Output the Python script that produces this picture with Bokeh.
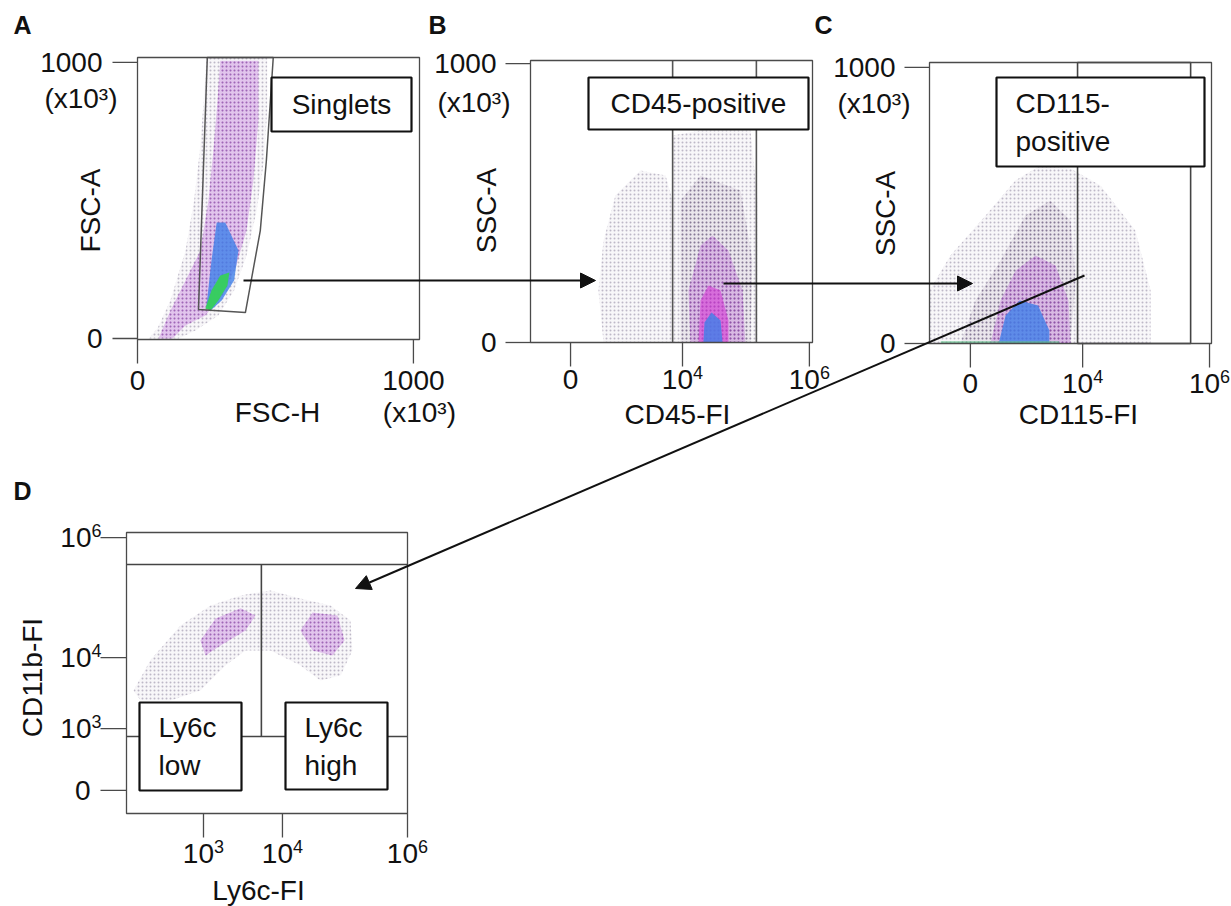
import math
from bokeh.plotting import figure
from bokeh.models import Range1d, Arrow, NormalHead
from bokeh.core.properties import value
from bokeh.embed import file_html
from bokeh.resources import INLINE

# ---------------------------------------------------------------- data
# Panel A : FSC-H (x10^3) vs FSC-A (x10^3)
A_xticks = [0, 1000]
A_xtick_labels = ["0", "1000"]
A_yticks = [0, 1000]
A_ytick_labels = ["0", "1000"]
A_gate_x = [253, 492, 467, 445, 391, 221]
A_gate_y = [1018, 1018, 644, 391, 94, 105]
A_sparse_x = [40, 72, 119, 174, 205, 226, 240, 250, 470, 470, 458, 432, 395, 350, 293, 210, 150]
A_sparse_y = [0, 36, 138, 319, 500, 681, 862, 1017, 1017, 825, 644, 463, 300, 174, 83, 29, 0]
A_dense_x = [76, 119, 174, 228, 257, 275, 290, 300, 438, 438, 420, 395, 358, 308, 246, 174, 127]
A_dense_y = [0, 101, 210, 319, 500, 681, 862, 1006, 1006, 789, 572, 391, 264, 156, 83, 47, 0]
A_blue_x = [250, 268, 287, 318, 366, 350, 305, 264]
A_blue_y = [119, 282, 420, 420, 319, 210, 138, 101]
A_green_x = [246, 268, 300, 333, 326, 293, 264]
A_green_y = [109, 174, 228, 239, 192, 138, 101]

# Panel B : CD45-FI (display channel) vs SSC-A (x10^3)
B_xticks = [142, 539, 989]
B_xtick_labels = ["0", "10\u2074", "10\u2076"]
B_yticks = [0, 1000]
B_ytick_labels = ["0", "1000"]
B_gate_x = [504, 801]
B_left_x = [259, 241, 259, 301, 390, 479, 504, 504]
B_left_y = [0, 186, 366, 527, 617, 599, 509, 0]
B_right_x = [504, 504, 603, 780, 805, 805]
B_right_y = [0, 742, 760, 760, 509, 0]
B_mid_x = [532, 532, 603, 745, 787, 780]
B_mid_y = [0, 509, 599, 545, 294, 0]
B_mag_x = [567, 560, 603, 645, 702, 752, 762]
B_mag_y = [0, 186, 348, 384, 330, 186, 0]
B_core_x = [596, 603, 631, 674, 702, 702]
B_core_y = [0, 151, 204, 186, 79, 0]
B_blue_x = [613, 617, 642, 674, 681]
B_blue_y = [0, 72, 108, 79, 0]

# Panel C : CD115-FI (display channel) vs SSC-A (x10^3)
C_xticks = [145, 543, 993]
C_xtick_labels = ["0", "10\u2074", "10\u2076"]
C_yticks = [0, 1000]
C_ytick_labels = ["0", "1000"]
C_gate_x = [525, 926]
C_sparse_x = [0, 0, 74, 199, 305, 394, 500, 606, 730, 784, 784]
C_sparse_y = [0, 192, 319, 464, 591, 645, 634, 572, 409, 192, 0]
C_mid_x = [110, 163, 252, 340, 429, 500, 518, 500]
C_mid_y = [0, 156, 301, 464, 518, 446, 228, 0]
C_mag_x = [216, 252, 305, 376, 447, 493, 500]
C_mag_y = [0, 156, 264, 319, 283, 156, 0]
C_blue_x = [245, 270, 320, 385, 425, 425]
C_blue_y = [0, 101, 156, 138, 47, 0]
C_green_x = [40, 460]

# Panel D : Ly6c-FI vs CD11b-FI (display channels)
D_xticks = [274, 555, 1000]
D_xtick_labels = ["10\u00b3", "10\u2074", "10\u2076"]
D_yticks = [82, 302, 555, 982]
D_ytick_labels = ["0", "10\u00b3", "10\u2074", "10\u2076"]
D_gate_top = 886
D_gate_low = 274
D_gate_split = 480
D_sparse_x = [25, 85, 192, 299, 406, 512, 619, 726, 797, 804, 762, 690, 619, 512, 424, 352, 263, 157, 50]
D_sparse_y = [438, 545, 669, 740, 776, 794, 765, 740, 687, 580, 491, 473, 527, 580, 580, 527, 438, 402, 402]
D_left_x = [263, 317, 406, 459, 424, 335, 281]
D_left_y = [616, 694, 730, 705, 651, 598, 562]
D_right_x = [619, 662, 751, 776, 733, 662]
D_right_y = [651, 715, 705, 616, 562, 580]

# ---------------------------------------------------------------- layout
FONT = value("Liberation Sans")
TXT = "#111111"
FRAME = "#4a4a4a"
W, H = 1231, 906

PANELS = {
    "A": dict(xr=(0, 1022), yr=(-3.6, 1018), box=(137, 419, 57, 339)),
    "B": dict(xr=(0, 1000), yr=(0, 1011), box=(530, 812, 60, 342)),
    "C": dict(xr=(0, 1000), yr=(0, 1018), box=(929, 1211, 62, 343)),
    "D": dict(xr=(0, 1000), yr=(0, 1000), box=(126, 407, 532, 813)),
}

p = figure(width=W, height=H, x_range=Range1d(0, W), y_range=Range1d(H, 0),
           output_backend="svg", toolbar_location=None, min_border=0,
           x_axis_type=None, y_axis_type=None)
p.outline_line_color = None
p.background_fill_color = "white"
p.border_fill_color = "white"

TICK_FS = "28px"
EXP_FS = "18px"
TITLE_FS = "28px"
SUP = {"\u00b3": "3", "\u2074": "4", "\u2076": "6"}
BASE_W = 31   # width of "10" at TICK_FS
EXP_W = 10    # width of one exponent digit at EXP_FS
EXP_RAISE = 7


def sub_of(key):
    P = PANELS[key]
    L, R, T, B = P["box"]
    return p.subplot(x_source=Range1d(*P["xr"]), y_source=Range1d(*P["yr"]),
                     x_target=Range1d(L, R), y_target=Range1d(B, T))


def tick_texts(sub, xs, ys, labels, mode, gap, gap_sup=None):
    if gap_sup is None:
        gap_sup = gap
    com = dict(text_baseline="middle", text_font=FONT, text_color=TXT)
    plain = [(x, y, l) for x, y, l in zip(xs, ys, labels) if l[-1] not in SUP]
    sup = [(x, y, l[:-1], SUP[l[-1]]) for x, y, l in zip(xs, ys, labels) if l[-1] in SUP]
    if mode == "x":
        if plain:
            sub.text(x=[a[0] for a in plain], y=[a[1] for a in plain], text=[a[2] for a in plain],
                     y_offset=gap, text_align="center", text_font_size=TICK_FS, **com)
        if sup:
            off = (BASE_W - EXP_W) / 2
            sub.text(x=[a[0] for a in sup], y=[a[1] for a in sup], text=[a[2] for a in sup],
                     x_offset=off, y_offset=gap, text_align="right", text_font_size=TICK_FS, **com)
            sub.text(x=[a[0] for a in sup], y=[a[1] for a in sup], text=[a[3] for a in sup],
                     x_offset=off, y_offset=gap - EXP_RAISE, text_align="left",
                     text_font_size=EXP_FS, **com)
    else:
        if plain:
            sub.text(x=[a[0] for a in plain], y=[a[1] for a in plain], text=[a[2] for a in plain],
                     x_offset=-gap, text_align="right", text_font_size=TICK_FS, **com)
        if sup:
            sub.text(x=[a[0] for a in sup], y=[a[1] for a in sup], text=[a[2] for a in sup],
                     x_offset=-gap_sup - EXP_W, text_align="right", text_font_size=TICK_FS, **com)
            sub.text(x=[a[0] for a in sup], y=[a[1] for a in sup], text=[a[3] for a in sup],
                     x_offset=-gap_sup - EXP_W, y_offset=-EXP_RAISE, text_align="left",
                     text_font_size=EXP_FS, **com)


def axes(sub, key, xticks, xlabels, yticks, ylabels, ylen=25, xlen=24, ygap=9, xgap=14, ygap_sup=None):
    P = PANELS[key]
    x0, x1 = P["xr"]
    y0, y1 = P["yr"]
    L, R, T, B = P["box"]
    kx = (x1 - x0) / (R - L)
    ky = (y1 - y0) / (B - T)
    sub.quad(left=[x0], right=[x1], bottom=[y0], top=[y1], fill_color=None,
             line_color=FRAME, line_width=1.3)
    n = len(yticks)
    sub.segment(x0=[x0] * n, x1=[x0 - ylen * kx] * n, y0=yticks, y1=yticks,
                line_color=FRAME, line_width=1.3)
    tick_texts(sub, [x0 - ylen * kx] * n, yticks, ylabels, "y", ygap, ygap_sup)
    m = len(xticks)
    sub.segment(x0=xticks, x1=xticks, y0=[y0] * m, y1=[y0 - xlen * ky] * m,
                line_color=FRAME, line_width=1.3)
    tick_texts(sub, xticks, [y0 - xlen * ky] * m, xlabels, "x", xgap)
    return kx, ky


def cloud(sub, xs, ys, kind):
    st = {
        "sparse": dict(fill_color="#9a92a6", fill_alpha=0.07, hatch_pattern="dot",
                       hatch_color="#786a8a", hatch_alpha=0.45, hatch_scale=4, hatch_weight=1.0),
        "mid": dict(fill_color="#9683a6", fill_alpha=0.14, hatch_pattern="dot",
                    hatch_color="#5f4d72", hatch_alpha=0.55, hatch_scale=4, hatch_weight=1.2),
        "purple": dict(fill_color="#b45ad2", fill_alpha=0.32, hatch_pattern="dot",
                       hatch_color="#8a3aa8", hatch_alpha=0.55, hatch_scale=4, hatch_weight=1.2),
        "magenta": dict(fill_color="#d63ad6", fill_alpha=0.6),
        "blue": dict(fill_color="#3f80e8", fill_alpha=0.8),
        "green": dict(fill_color="#36d05a", fill_alpha=0.95),
    }[kind]
    sub.patch(xs, ys, line_color=None, **st)


def label(x, y, t, size=TITLE_FS, angle=0.0, align="center", bold=False, **kw):
    p.text(x=[x], y=[y], text=[t], angle=angle, text_align=align, text_baseline="middle",
           text_font=FONT, text_font_size=size, text_color=TXT,
           text_font_style="bold" if bold else "normal", **kw)


def box(L, R, T, B):
    p.quad(left=[L], right=[R], top=[T], bottom=[B], fill_color="white",
           line_color="#111111", line_width=2.2)


def units_label(sub, x, y, dx, dy, align):
    sub.text(x=[x], y=[y], text=["(x10\u00b3)"], x_offset=dx, y_offset=dy,
             text_align=align, text_baseline="middle", text_font=FONT,
             text_font_size=TICK_FS, text_color=TXT)


# ---------------- Panel A
sa = sub_of("A")
cloud(sa, A_sparse_x, A_sparse_y, "sparse")
cloud(sa, A_dense_x, A_dense_y, "purple")
cloud(sa, A_blue_x, A_blue_y, "blue")
cloud(sa, A_green_x, A_green_y, "green")
sa.patch(A_gate_x, A_gate_y, fill_color=None, line_color="#555555", line_width=1.5)
kx, ky = axes(sa, "A", A_xticks, A_xtick_labels, A_yticks, A_ytick_labels, ygap=10, xgap=17)
units_label(sa, -25 * kx, 1000, 5, 36, "right")
units_label(sa, 1000, -3.6 - 24 * ky, 6, 49, "center")

# ---------------- Panel B
sb = sub_of("B")
cloud(sb, B_left_x, B_left_y, "sparse")
cloud(sb, B_right_x, B_right_y, "sparse")
cloud(sb, B_mid_x, B_mid_y, "mid")
cloud(sb, B_mag_x, B_mag_y, "purple")
cloud(sb, B_core_x, B_core_y, "magenta")
cloud(sb, B_blue_x, B_blue_y, "blue")
sb.segment(x0=B_gate_x, x1=B_gate_x, y0=[0, 0], y1=[1011, 1011], line_color="#555555", line_width=1.6)
kx, ky = axes(sb, "B", B_xticks, B_xtick_labels, B_yticks, B_ytick_labels, ygap=9, xgap=13)
units_label(sb, -25 * kx, 1000, 5, 39, "right")

# ---------------- Panel C
sc = sub_of("C")
cloud(sc, C_sparse_x, C_sparse_y, "sparse")
cloud(sc, C_mid_x, C_mid_y, "mid")
cloud(sc, C_mag_x, C_mag_y, "purple")
cloud(sc, C_blue_x, C_blue_y, "blue")
sc.quad(left=[C_green_x[0]], right=[C_green_x[1]], bottom=[0], top=[8],
        fill_color="#5fc08a", fill_alpha=0.7, line_color=None)
sc.quad(left=[C_gate_x[0]], right=[C_gate_x[1]], bottom=[0], top=[1018],
        fill_color=None, line_color="#444444", line_width=1.6)
kx, ky = axes(sc, "C", C_xticks, C_xtick_labels, C_yticks, C_ytick_labels, ygap=9, xgap=16)
units_label(sc, -24 * kx, 1000, 5, 36, "right")

# ---------------- Panel D
sd = sub_of("D")
cloud(sd, D_sparse_x, D_sparse_y, "sparse")
cloud(sd, D_left_x, D_left_y, "purple")
cloud(sd, D_right_x, D_right_y, "purple")
sd.segment(x0=[0, D_gate_split, 0], x1=[1000, D_gate_split, 1000],
           y0=[D_gate_top, D_gate_low, D_gate_low], y1=[D_gate_top, D_gate_top, D_gate_low],
           line_color="#444444", line_width=1.6)
axes(sd, "D", D_xticks, D_xtick_labels, D_yticks, D_ytick_labels, ylen=26, xlen=24,
     ygap=10, xgap=16, ygap_sup=-1)

# ---------------- gate boxes and their texts (layout positions)
box(271, 411, 77, 131)
label(341, 104, "Singlets")
box(588, 808, 77, 129)
label(698, 103, "CD45-positive")
box(996, 1204, 77, 166)
label(1015, 122, "CD115-\npositive", align="left")
box(139, 241, 702, 790)
label(158, 746, "Ly6c\nlow", align="left")
box(285, 387, 702, 789)
label(304, 746, "Ly6c\nhigh", align="left")

# ---------------- axis titles
label(90, 210, "FSC-A", angle=math.pi / 2)
label(277, 412, "FSC-H")
label(486, 210, "SSC-A", angle=math.pi / 2)
label(677, 414, "CD45-FI")
label(885, 213, "SSC-A", angle=math.pi / 2)
label(1078, 414, "CD115-FI")
label(32, 677, "CD11b-FI", angle=math.pi / 2)
label(258, 890, "Ly6c-FI")

# ---------------- panel letters
for t, x, y in [("A", 22, 24), ("B", 437, 24), ("C", 823, 24), ("D", 22, 490)]:
    label(x, y, t, size="25px", bold=True)

# ---------------- arrows
for xs, ys, xe, ye in [(243, 280, 595, 280), (723, 283, 972, 283), (1084, 275, 355, 588)]:
    p.add_layout(Arrow(end=NormalHead(size=15, fill_color="#111111", line_color="#111111"),
                       x_start=xs, y_start=ys, x_end=xe, y_end=ye,
                       line_color="#111111", line_width=2))

open("out.html", "w").write(file_html(p, INLINE))
